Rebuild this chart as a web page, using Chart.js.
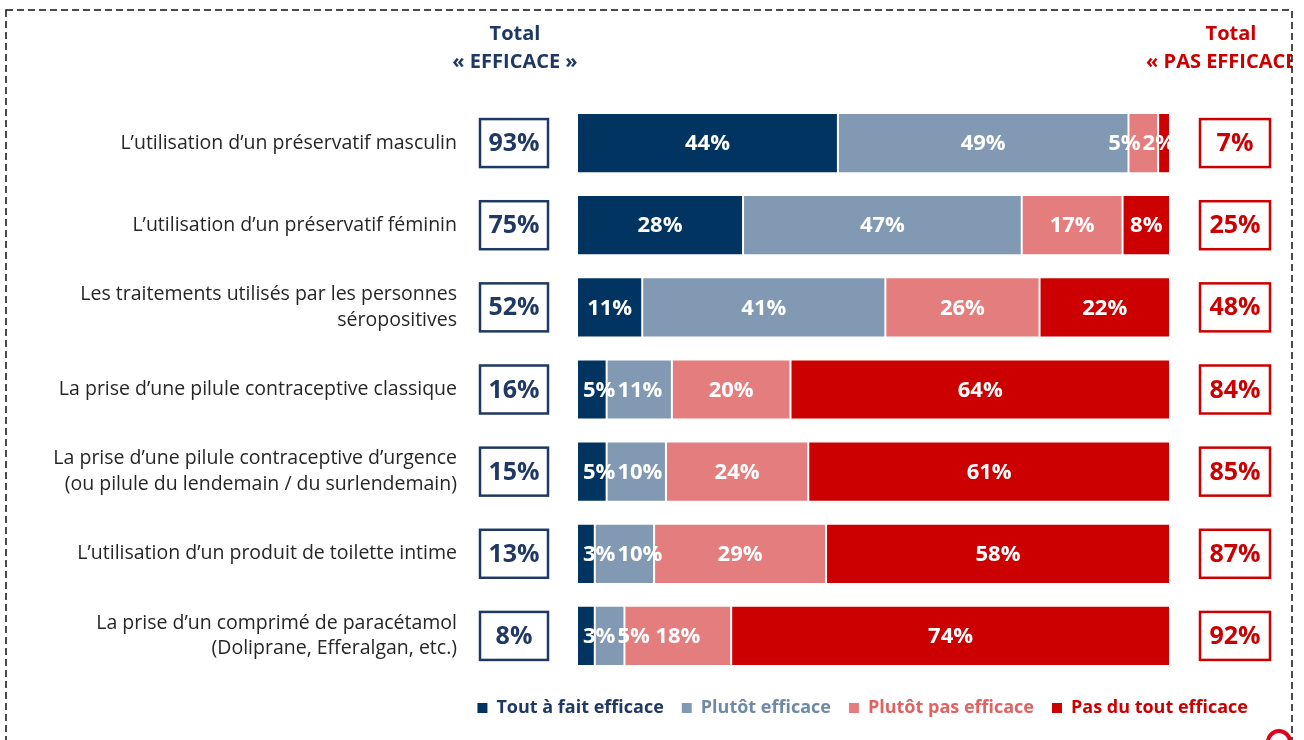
<!DOCTYPE html>
<html><head><meta charset="utf-8">
<script src="https://cdn.jsdelivr.net/npm/chart.js@4/dist/chart.umd.min.js"></script>
<style>html,body{margin:0;padding:0;background:#fff}#wrap{width:1304px;height:740px;position:relative}</style>
</head><body><div id="wrap"><canvas id="c" width="1304" height="740"></canvas></div>
<script>
const categories = [
  "L’utilisation d’un préservatif masculin",
  "L’utilisation d’un préservatif féminin",
  ["Les traitements utilisés par les personnes", "séropositives"],
  "La prise d’une pilule contraceptive classique",
  ["La prise d’une pilule contraceptive d’urgence", "(ou pilule du lendemain / du surlendemain)"],
  "L’utilisation d’un produit de toilette intime",
  ["La prise d’un comprimé de paracétamol", "(Doliprane, Efferalgan, etc.)"]
];
const seriesNames = ["Tout à fait efficace", "Plutôt efficace", "Plutôt pas efficace", "Pas du tout efficace"];
const toutAFait   = [44, 28, 11, 5, 5, 3, 3];
const plutot      = [49, 47, 41, 11, 10, 10, 5];
const plutotPas   = [5, 17, 26, 20, 24, 29, 18];
const pasDuTout   = [2, 8, 22, 64, 61, 58, 74];
const totalEfficace    = [93, 75, 52, 16, 15, 13, 8];
const totalPasEfficace = [7, 25, 48, 84, 85, 87, 92];

const barColors = ["#023462", "#8199b3", "#e47d7d", "#cc0000"];
const legendText = ["#1f3864", "#6f89a8", "#e26262", "#cc0000"];
const NAVY = "#1f3864", RED = "#cc0000";
const FONT = '"Open Sans", "DejaVu Sans", sans-serif';

const overlay = {
  id: 'overlay',
  afterDatasetsDraw(chart) {
    const ctx = chart.ctx, ca = chart.chartArea;
    ctx.save();
    ctx.beginPath();
    ctx.rect(ca.left, ca.top, ca.right - ca.left, ca.bottom - ca.top);
    ctx.clip();
    ctx.font = 'bold 22px ' + FONT;
    ctx.fillStyle = '#ffffff';
    ctx.textAlign = 'center';
    ctx.textBaseline = 'middle';
    const gap = 2;
    for (let r = 0; r < chart.data.labels.length; r++) {
      const items = chart.data.datasets.map((ds, i) => {
        const el = chart.getDatasetMeta(i).data[r];
        const t = ds.data[r] + '%';
        const w = ctx.measureText(t).width;
        return { t, w, x: (el.x + el.base) / 2 - w / 2, y: el.y };
      });
      if (items[0].x < ca.left + 6) items[0].x = ca.left + 6;
      for (let k = 1; k < items.length; k++) {
        const p = items[k - 1];
        if (items[k].x < p.x + p.w + gap) items[k].x = p.x + p.w + gap;
      }
      const last = items[items.length - 1];
      if (last.x + last.w > ca.right + 5) last.x = ca.right + 5 - last.w;
      for (let k = items.length - 2; k >= 0; k--) {
        const nx = items[k + 1];
        if (items[k].x + items[k].w + gap > nx.x) items[k].x = nx.x - gap - items[k].w;
      }
      items.forEach(it => ctx.fillText(it.t, it.x + it.w / 2, it.y + 1));
    }
    ctx.restore();
  },
  afterDraw(chart) {
    const ctx = chart.ctx, ca = chart.chartArea;
    const meta = chart.getDatasetMeta(0);
    const lx = ca.left - 63, rx = ca.right + 65;
    ctx.save();
    ctx.textAlign = 'center';
    ctx.textBaseline = 'middle';
    for (let r = 0; r < chart.data.labels.length; r++) {
      const y = meta.data[r].y;
      ctx.lineWidth = 2.5;
      ctx.strokeStyle = NAVY;
      ctx.strokeRect(lx - 34, y - 24, 68, 48);
      ctx.strokeStyle = RED;
      ctx.strokeRect(rx - 35, y - 24, 70, 48);
      ctx.font = 'bold 25px ' + FONT;
      ctx.fillStyle = NAVY;
      ctx.fillText(totalEfficace[r] + '%', lx, y + 1);
      ctx.fillStyle = RED;
      ctx.fillText(totalPasEfficace[r] + '%', rx, y + 1);
    }
    ctx.font = 'bold 20px ' + FONT;
    ctx.fillStyle = NAVY;
    ctx.fillText('Total', lx + 1, ca.top - 68);
    ctx.fillText('« EFFICACE »', lx + 1, ca.top - 40);
    ctx.save();
    ctx.beginPath();
    ctx.rect(0, 0, 1292, 740);
    ctx.clip();
    ctx.fillStyle = RED;
    ctx.fillText('Total', rx - 4, ca.top - 68);
    ctx.fillText('« PAS EFFICACE »', rx - 5, ca.top - 40);
    ctx.restore();
    ctx.setLineDash([7, 4]);
    ctx.lineWidth = 1.5;
    ctx.strokeStyle = '#111';
    ctx.strokeRect(6, 10, 1286, 780);
    ctx.setLineDash([]);
    ctx.beginPath();
    ctx.lineWidth = 4;
    ctx.strokeStyle = '#e0001b';
    ctx.arc(1279, 742, 11, Math.PI, 2 * Math.PI);
    ctx.stroke();
    ctx.restore();
  }
};

new Chart(document.getElementById('c'), {
  type: 'bar',
  data: {
    labels: categories,
    datasets: [toutAFait, plutot, plutotPas, pasDuTout].map((d, i) => ({
      label: seriesNames[i],
      data: d,
      backgroundColor: barColors[i],
      borderColor: 'rgba(255,255,255,0.85)',
      borderWidth: 1,
      borderSkipped: false,
      categoryPercentage: 0.733,
      barPercentage: 1
    }))
  },
  options: {
    responsive: false,
    animation: false,
    indexAxis: 'y',
    layout: { padding: { left: 10, right: 38, top: 102, bottom: 13 } },
    scales: {
      x: {
        stacked: true, min: 0, max: 100,
        grid: { display: false }, border: { display: false },
        ticks: { display: false },
        afterFit(s) { s.height = 4; s.paddingLeft = 0; s.paddingRight = 0; }
      },
      y: {
        stacked: true,
        grid: { display: false, drawTicks: false }, border: { display: false },
        ticks: { padding: 120, color: '#262626', font: { family: FONT, size: 19.5, lineHeight: 1.33 }, autoSkip: false },
        afterFit(s) { s.width = 567; s.paddingTop = 0; s.paddingBottom = 0; }
      },
      y2: {
        type: 'category', position: 'right', labels: categories,
        grid: { display: false, drawTicks: false }, border: { display: false },
        ticks: { display: false },
        afterFit(s) { s.width = 96; s.paddingTop = 0; s.paddingBottom = 0; }
      }
    },
    plugins: {
      tooltip: { enabled: false },
      legend: {
        position: 'bottom',
        align: 'end',
        labels: {
          boxWidth: 10, boxHeight: 10, padding: 18,
          font: { family: FONT, size: 18, weight: 'bold' },
          generateLabels(chart) {
            return chart.data.datasets.map((d, i) => ({
              text: d.label, fillStyle: d.backgroundColor, strokeStyle: d.backgroundColor,
              lineWidth: 0, fontColor: legendText[i], hidden: false, datasetIndex: i
            }));
          }
        }
      }
    }
  },
  plugins: [overlay]
});
</script></body></html>
